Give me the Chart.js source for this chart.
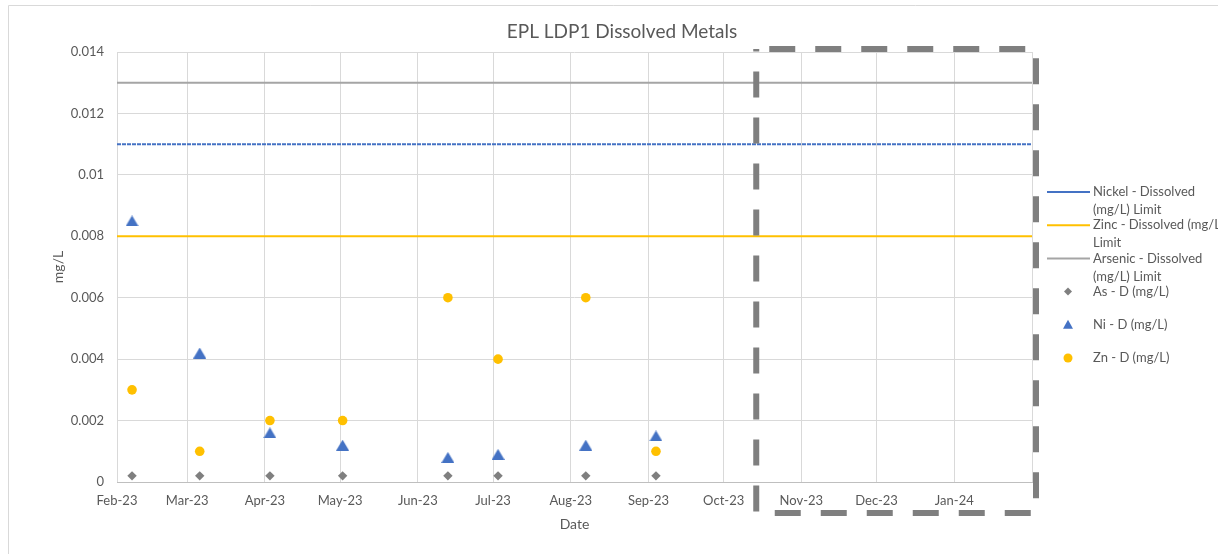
<!DOCTYPE html>
<html>
<head>
<meta charset="utf-8">
<script src="https://cdn.jsdelivr.net/npm/chart.js@4.4.0/dist/chart.umd.min.js"></script>
<style>
  html, body { margin: 0; padding: 0; background: #fff; }
  canvas { display: block; }
</style>
</head>
<body>
<canvas id="metals" width="1218" height="554"></canvas>
<script>
// sampling dates and dissolved results (mg/L)
const sampleDates = ['2023-02-07', '2023-03-06', '2023-04-03', '2023-05-02', '2023-06-13', '2023-07-03', '2023-08-07', '2023-09-04'];
const arsenicD = [0.0002, 0.0002, 0.0002, 0.0002, 0.0002, 0.0002, 0.0002, 0.0002];
const nickelD = [0.0085, 0.0042, 0.0016, 0.0012, 0.0008, 0.0009, 0.0012, 0.0015];
const zincD = [0.003, 0.001, 0.002, 0.002, 0.006, 0.004, 0.006, 0.001];

// guideline limits (mg/L)
const nickelLimit = 0.011;
const zincLimit = 0.008;
const arsenicLimit = 0.013;

// axis ticks
const monthTicks = ['2023-02-01', '2023-03-01', '2023-04-01', '2023-05-01', '2023-06-01', '2023-07-01',
  '2023-08-01', '2023-09-01', '2023-10-01', '2023-11-01', '2023-12-01', '2024-01-01', '2024-02-01'];
const monthNames = ['Jan', 'Feb', 'Mar', 'Apr', 'May', 'Jun', 'Jul', 'Aug', 'Sep', 'Oct', 'Nov', 'Dec'];
const yMax = 0.014;
const yStep = 0.002;

// start of the highlighted (future) period
const boxStart = '2023-10-14';

const legendItems = [
  { lines: ['Nickel - Dissolved', '(mg/L) Limit'], kind: 'line', color: '#4472c4' },
  { lines: ['Zinc - Dissolved (mg/L)', 'Limit'], kind: 'line', color: '#ffc000' },
  { lines: ['Arsenic - Dissolved', '(mg/L) Limit'], kind: 'line', color: '#a5a5a5' },
  { lines: ['As - D (mg/L)'], kind: 'diamond', color: '#7f7f7f' },
  { lines: ['Ni - D (mg/L)'], kind: 'triangle', color: '#4472c4' },
  { lines: ['Zn - D (mg/L)'], kind: 'circle', color: '#ffc000' }
];

const toMs = function(d) {
  const p = d.split('-');
  return Date.UTC(+p[0], +p[1] - 1, +p[2]);
};

const xStart = toMs(monthTicks[0]);
const xEnd = toMs(monthTicks[monthTicks.length - 1]);

const points = function(values) {
  return values.map((v, i) => ({ x: toMs(sampleDates[i]), y: v }));
};
const limitLine = function(v) {
  return [{ x: xStart, y: v }, { x: xEnd, y: v }];
};

// Excel centres its triangle marker on the bounding box, so build one as an image
const triangleMarker = function(w, h, color) {
  const c = document.createElement('canvas');
  c.width = w;
  c.height = h;
  const g = c.getContext('2d');
  g.fillStyle = color;
  g.beginPath();
  g.moveTo(w / 2, 0);
  g.lineTo(w, h);
  g.lineTo(0, h);
  g.closePath();
  g.fill();
  return c;
};

// title, dashed box, legend and frame drawn like the Excel original
const excelDecor = {
  id: 'excelDecor',
  afterDraw(chart) {
    const { ctx, chartArea } = chart;
    const xs = chart.scales.x;

    ctx.save();
    // outer chart frame
    ctx.strokeStyle = '#d9d9d9';
    ctx.lineWidth = 1;
    ctx.beginPath();
    ctx.moveTo(8.5, chart.height);
    ctx.lineTo(8.5, 5.5);
    ctx.lineTo(chart.width, 5.5);
    ctx.stroke();

    // title
    ctx.fillStyle = '#595959';
    ctx.font = '19px Lato';
    ctx.textAlign = 'center';
    ctx.textBaseline = 'middle';
    ctx.fillText('EPL LDP1 Dissolved Metals', 622, 32);

    // dashed box
    const left = xs.getPixelForValue(toMs(boxStart));
    const right = chartArea.right + 4;
    const top = chartArea.top - 3;
    const bottom = chartArea.bottom + 31;
    ctx.strokeStyle = '#7f7f7f';
    ctx.lineWidth = 6;
    ctx.setLineDash([26, 20]);
    ctx.lineDashOffset = 33;
    ctx.beginPath();
    ctx.moveTo(left, top);
    ctx.lineTo(right, top);
    ctx.lineTo(right, bottom);
    ctx.lineTo(left, bottom);
    ctx.closePath();
    ctx.stroke();
    ctx.setLineDash([]);

    // legend
    const lx = chartArea.right + 15;
    const ly = 192;
    const step = 33.2;
    ctx.font = '13px Lato';
    ctx.textAlign = 'left';
    legendItems.forEach((item, i) => {
      const y = ly + i * step;
      const cx = lx + 21;
      ctx.fillStyle = item.color;
      ctx.strokeStyle = item.color;
      if (item.kind === 'line') {
        ctx.lineWidth = 2;
        ctx.beginPath();
        ctx.moveTo(lx, y);
        ctx.lineTo(lx + 43, y);
        ctx.stroke();
      } else if (item.kind === 'diamond') {
        ctx.beginPath();
        ctx.moveTo(cx, y - 4);
        ctx.lineTo(cx + 4, y);
        ctx.lineTo(cx, y + 4);
        ctx.lineTo(cx - 4, y);
        ctx.closePath();
        ctx.fill();
      } else if (item.kind === 'triangle') {
        ctx.beginPath();
        ctx.moveTo(cx, y - 5);
        ctx.lineTo(cx + 5, y + 4);
        ctx.lineTo(cx - 5, y + 4);
        ctx.closePath();
        ctx.fill();
      } else {
        ctx.beginPath();
        ctx.arc(cx, y, 4.5, 0, Math.PI * 2);
        ctx.fill();
      }
      ctx.fillStyle = '#595959';
      item.lines.forEach((t, j) => {
        ctx.fillText(t, lx + 46, y + j * 18);
      });
    });
    ctx.restore();
  }
};

function drawChart() {
  Chart.defaults.font.family = 'Lato';
  Chart.defaults.font.size = 13;
  Chart.defaults.color = '#595959';

  new Chart(document.getElementById('metals'), {
    type: 'scatter',
    data: {
      datasets: [
        { label: 'Nickel - Dissolved (mg/L) Limit', data: limitLine(nickelLimit), showLine: true,
          borderColor: '#4472c4', borderWidth: 2, borderDash: [4, 1], pointRadius: 0 },
        { label: 'Zinc - Dissolved (mg/L) Limit', data: limitLine(zincLimit), showLine: true,
          borderColor: '#ffc000', borderWidth: 2, pointRadius: 0 },
        { label: 'Arsenic - Dissolved (mg/L) Limit', data: limitLine(arsenicLimit), showLine: true,
          borderColor: '#a5a5a5', borderWidth: 2, pointRadius: 0 },
        { label: 'As - D (mg/L)', data: points(arsenicD), pointStyle: 'rectRot', pointRadius: 4.7,
          backgroundColor: '#7f7f7f', borderWidth: 0 },
        { label: 'Ni - D (mg/L)', data: points(nickelD), pointStyle: triangleMarker(13, 11, '#4472c4'),
          pointRadius: 7, backgroundColor: '#4472c4', borderWidth: 0 },
        { label: 'Zn - D (mg/L)', data: points(zincD), pointStyle: 'circle', pointRadius: 4.8,
          backgroundColor: '#ffc000', borderWidth: 0 }
      ]
    },
    options: {
      responsive: false,
      animation: false,
      devicePixelRatio: 1,
      layout: {
        padding: { top: 52, right: 186, bottom: 0, left: 0 }
      },
      scales: {
        x: {
          type: 'linear',
          min: xStart,
          max: xEnd,
          afterBuildTicks: (scale) => {
            scale.ticks = monthTicks.map(d => ({ value: toMs(d) }));
          },
          afterFit: (scale) => { scale.height = 72; },
          ticks: {
            autoSkip: false,
            maxRotation: 0,
            padding: 11,
            callback: (value, index) => {
              if (index === monthTicks.length - 1) return '';
              const d = new Date(value);
              return monthNames[d.getUTCMonth()] + '-' + String(d.getUTCFullYear()).slice(2);
            }
          },
          grid: { color: '#d9d9d9', drawTicks: false },
          border: { color: '#bfbfbf' },
          title: { display: true, text: 'Date', font: { size: 14 }, padding: { top: 0, bottom: 21.6 } }
        },
        y: {
          min: 0,
          max: yMax,
          afterFit: (scale) => { scale.width = 117; },
          ticks: {
            stepSize: yStep,
            padding: 13,
            callback: (value) => String(+value.toFixed(3))
          },
          grid: { color: '#d9d9d9', drawTicks: false },
          border: { display: false },
          title: { display: true, text: 'mg/L', font: { size: 14 }, padding: { top: 49.6, bottom: 0 } }
        }
      },
      plugins: {
        legend: { display: false },
        title: { display: false },
        tooltip: { enabled: false }
      }
    },
    plugins: [excelDecor]
  });
}

document.fonts.load('13px Lato').then(drawChart, drawChart);
</script>
</body>
</html>
